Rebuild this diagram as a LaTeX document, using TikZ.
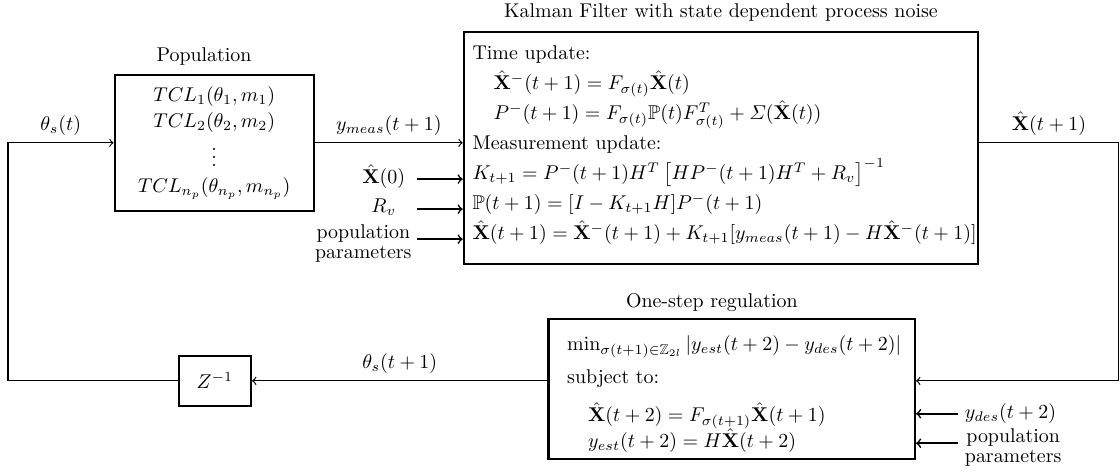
\documentclass[tikz,border=0pt]{standalone}
\usepackage{amsmath,amssymb}
\tikzset{
    block/.style={draw, very thick, inner sep=0pt},
    rowtxt/.style={anchor=base west, inner sep=0pt},
    lbl/.style={inner sep=1pt},
    loop/.style={semithick},
    feed/.style={thick}
}
\begin{document}
\begin{tikzpicture}[scale=1]
    \useasboundingbox (0,0) rectangle (19.76,8.38);
    % Population
    \node[block, minimum width=3.51cm, minimum height=2.40cm, align=center] (pop) at (3.78,5.86)
        {$TCL_1(\theta_1,m_1)$\\[1pt] $TCL_2(\theta_2,m_2)$\\[1pt] $\vdots$\\[1pt] $TCL_{n_p}(\theta_{n_p},m_{n_p})$};
    \node (poptitle) at (3.60,7.39) {Population};
    % Delay
    \node[block, minimum width=1.27cm, minimum height=0.88cm] (zinv) at (3.79,1.66) {$Z^{-1}$};
    % Kalman filter
    \node[block, minimum width=9.07cm, minimum height=4.09cm] (kf) at (12.72,5.77) {};
    \node (kftitle) at (12.72,8.16) {Kalman Filter with state dependent process noise};
    \node[rowtxt] (kfa) at (8.33,7.33) {Time update:};
    \node[rowtxt] (kfb) at (8.70,6.80) {$\hat{\mathbf{X}}^-(t+1)=F_{\sigma(t)}\hat{\mathbf{X}}(t)$};
    \node[rowtxt] (kfc) at (8.70,6.27) {$P^-(t+1)=F_{\sigma(t)}\mathbb{P}(t)F_{\sigma(t)}^T+\varSigma(\hat{\mathbf{X}}(t))$};
    \node[rowtxt] (kfd) at (8.33,5.74) {Measurement update:};
    \node[rowtxt] (kfe) at (8.33,5.21) {$K_{t+1}=P^-(t+1)H^T\left[HP^-(t+1)H^T+R_v\right]^{-1}$};
    \node[rowtxt] (kff) at (8.33,4.68) {$\mathbb{P}(t+1)=[I-K_{t+1}H]P^-(t+1)$};
    \node[rowtxt] (kfg) at (8.33,4.15) {$\hat{\mathbf{X}}(t+1)=\hat{\mathbf{X}}^-(t+1)+K_{t+1}[y_{meas}(t+1)-H\hat{\mathbf{X}}^-(t+1)]$};
    % One-step regulation
    \node[block, minimum width=6.46cm, minimum height=2.47cm] (reg) at (12.91,1.52) {};
    \node (regtitle) at (12.56,3.05) {One-step regulation};
    \node[rowtxt] (rga) at (10.00,2.19) {$\min_{\sigma(t+1)\in\mathbb{Z}_{2l}}|y_{est}(t+2)-y_{des}(t+2)|$};
    \node[rowtxt] (rgb) at (10.00,1.62) {subject to:};
    \node[rowtxt] (rgc) at (10.37,0.94) {$\hat{\mathbf{X}}(t+2)=F_{\sigma(t+1)}\hat{\mathbf{X}}(t+1)$};
    \node[rowtxt] (rgd) at (10.37,0.49) {$y_{est}(t+2)=H\hat{\mathbf{X}}(t+2)$};
    % Feedback loop
    \coordinate (lc) at (0.14,5.86);
    \coordinate (rc) at (19.74,5.86);
    \coordinate (rb) at (19.74,1.66);
    \draw[->, loop] (zinv.west) -| (lc) -- (pop.west) node[midway, above] {$\theta_s(t)$};
    \draw[->, loop] (pop.east) -- (pop.east -| kf.west) node[midway, above] {$y_{meas}(t+1)$};
    \draw[->, loop] (kf.east |- rc) -- (rc) node[midway, above] {$\hat{\mathbf{X}}(t+1)$} -- (rb) -- (reg.east |- rb);
    \draw[->, loop] (reg.west |- rb) -- (zinv.east) node[midway, above] {$\theta_s(t+1)$};
    % Filter inputs
    \coordinate (inx) at (7.36,5.22);
    \coordinate (inr) at (7.36,4.69);
    \coordinate (inp) at (7.36,4.16);
    \node[lbl] (xzero) at (6.77,5.27) {$\hat{\mathbf{X}}(0)$};
    \node[lbl] (rv) at (6.77,4.73) {$R_v$};
    \node[lbl, align=center] (parl) at (6.41,4.09) {population\\[-2pt]parameters};
    \draw[->, feed] (inx) -- (inx -| kf.west);
    \draw[->, feed] (inr) -- (inr -| kf.west);
    \draw[->, feed] (inp) -- (inp -| kf.west);
    % Regulation inputs
    \coordinate (iny) at (16.90,1.08);
    \coordinate (inq) at (16.90,0.56);
    \node[right] (ydes) at (iny) {$y_{des}(t+2)$};
    \node[right, align=center] (parr) at (16.90,0.49) {population\\[-2pt]parameters};
    \draw[->, feed] (iny) -- (iny -| reg.east);
    \draw[->, feed] (inq) -- (inq -| reg.east);
\end{tikzpicture}
\end{document}
